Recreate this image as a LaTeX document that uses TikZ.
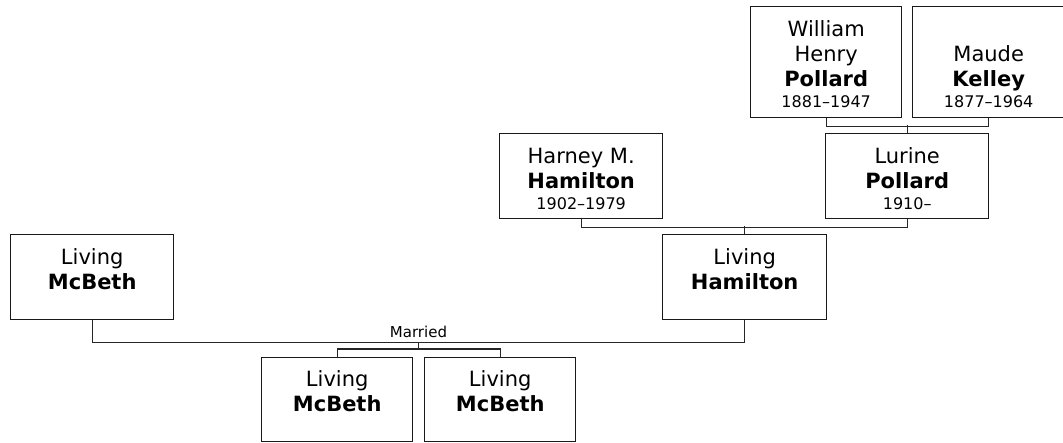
\documentclass[tikz,border=0pt]{standalone}
\usepackage{fontspec}
\setmainfont{DejaVu Sans}
\usetikzlibrary{calc}

\newcommand{\namefont}{\fontsize{21}{25}\selectfont}
\newcommand{\datefont}{\fontsize{16}{19}\selectfont}
% box contents: [first baseline]{width}{height}{lines}
\newcommand{\card}[4][30pt]{%
  \begin{minipage}[c][#3][t]{#2}\centering\namefont
  \rule{0pt}{#1}#4\end{minipage}}
\newcommand{\years}[1]{\\[-4.5pt]{\datefont #1}}

\tikzset{
  person/.style={draw=black!90, line width=1.4pt, inner sep=0pt, anchor=north west},
  link/.style={draw=black!85, line width=1.1pt},
  married/.style={font=\fontsize{15}{18}\selectfont, inner sep=4pt}
}

\begin{document}
\begin{tikzpicture}[x=1pt, y=-1pt]
    \useasboundingbox (0,0) rectangle (1063,442);

    % Grandparents
    \node[person] (whp) at (750,6) {\card{151pt}{111pt}{William\\Henry\\\textbf{Pollard}\years{1881–1947}}};
    \node[person] (maude) at (912,6) {\card[55pt]{152pt}{111pt}{Maude\\\textbf{Kelley}\years{1877–1964}}};

    % Parents
    \node[person] (harney) at (499,133) {\card{163pt}{85pt}{Harney M.\\\textbf{Hamilton}\years{1902–1979}}};
    \node[person] (lurine) at (825,133) {\card{163pt}{85pt}{Lurine\\\textbf{Pollard}\years{1910–}}};

    % Couple
    \node[person] (mcbeth) at (10,234) {\card{163pt}{85pt}{Living\\\textbf{McBeth}}};
    \node[person] (hamilton) at (662,234) {\card{164pt}{85pt}{Living\\\textbf{Hamilton}}};

    % Children
    \node[person] (kidA) at (261,357) {\card[29pt]{151pt}{84pt}{Living\\\textbf{McBeth}}};
    \node[person] (kidB) at (424,357) {\card[29pt]{151pt}{84pt}{Living\\\textbf{McBeth}}};

    % Connectors
    \draw[link] (whp.south) -- ++(0,8) -| (maude.south);
    \draw[link] (lurine.north) -- ++(0,-8);
    \draw[link] (harney.south) -- ++(0,8) -| (lurine.south);
    \draw[link] (hamilton.north) -- ++(0,-8);
    \draw[link] (mcbeth.south) -- ++(0,22) -| (hamilton.south);
    \coordinate (wed) at ($(mcbeth.south)!0.5!(hamilton.south)+(0,22)$);
    \node[married, above] (marr) at (wed) {Married};
    \draw[link] (wed) -- ++(0,8);
    \draw[link] (kidA.north) -- ++(0,-8) -| (kidB.north);
\end{tikzpicture}
\end{document}
